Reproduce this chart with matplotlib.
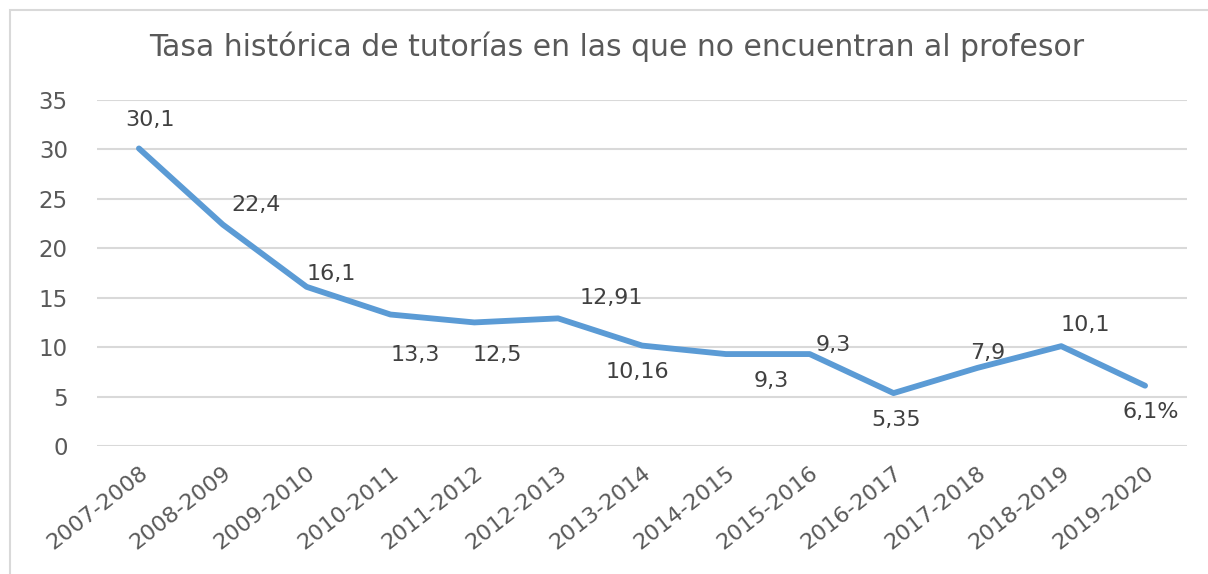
import matplotlib
matplotlib.use("Agg")
import matplotlib.pyplot as plt
from matplotlib.patches import Rectangle
from matplotlib.transforms import offset_copy

plt.rcParams["font.family"] = ["DejaVu Sans"]

seasons = ["2007-2008", "2008-2009", "2009-2010", "2010-2011", "2011-2012",
           "2012-2013", "2013-2014", "2014-2015", "2015-2016", "2016-2017",
           "2017-2018", "2018-2019", "2019-2020"]
rates = [30.1, 22.4, 16.1, 13.3, 12.5, 12.91, 10.16, 9.3, 9.3, 5.35, 7.9, 10.1, 6.1]
labels = ["30,1", "22,4", "16,1", "13,3", "12,5", "12,91", "10,16",
          "9,3", "9,3", "5,35", "7,9", "10,1", "6,1%"]
# label offsets in pixels (dx, dy), dy positive = up
offsets = [(11, 28), (33, 20), (25, 13), (25, -40), (23, -33), (53, 20),
           (-5, -26), (45, -27), (24, 9), (3, -27), (10, 15), (24, 21), (6, -26)]

W, H = 1208, 574
fig = plt.figure(figsize=(W / 100, H / 100), dpi=100)
fig.patches.append(Rectangle((10 / W, -0.1), 1.2, 1 - 10 / H + 0.1,
                             transform=fig.transFigure, fill=False,
                             edgecolor="#d9d9d9", linewidth=1.5))

ax = fig.add_axes([97 / W, 1 - 446 / H, (1187 - 97) / W, (446 - 100) / H])
x = list(range(len(seasons)))
ax.plot(x, rates, color="#5b9bd5", linewidth=4.2, solid_capstyle="round",
        solid_joinstyle="round", zorder=3)

for xi, yi, lab, (dx, dy) in zip(x, rates, labels, offsets):
    ax.annotate(lab, (xi, yi), xytext=(dx, dy), textcoords="offset pixels",
                ha="center", va="center", fontsize=16, color="#404040")

ax.set_xlim(-0.5, len(seasons) - 0.5)
ax.set_ylim(0, 35)
ax.set_yticks(range(0, 36, 5))
ax.set_xticks(x)
ax.set_xticklabels(seasons, rotation=38, ha="right", va="top",
                   rotation_mode="anchor", fontsize=16)
for t in ax.get_xticklabels():
    t.set_transform(offset_copy(t.get_transform(), fig=fig, x=-2, y=0, units="dots"))
ax.grid(axis="y", color="#d9d9d9", linewidth=1.5)
ax.set_axisbelow(True)
for s in ax.spines.values():
    s.set_visible(False)
ax.tick_params(axis="both", length=0, colors="#595959")
ax.tick_params(axis="y", pad=21, labelsize=16.5)
ax.tick_params(axis="x", pad=12)

fig.text(617 / W, 1 - 47 / H, "Tasa histórica de tutorías en las que no encuentran al profesor",
         ha="center", va="center", fontsize=21.5, color="#595959")

fig.savefig("out.png", dpi=100)
